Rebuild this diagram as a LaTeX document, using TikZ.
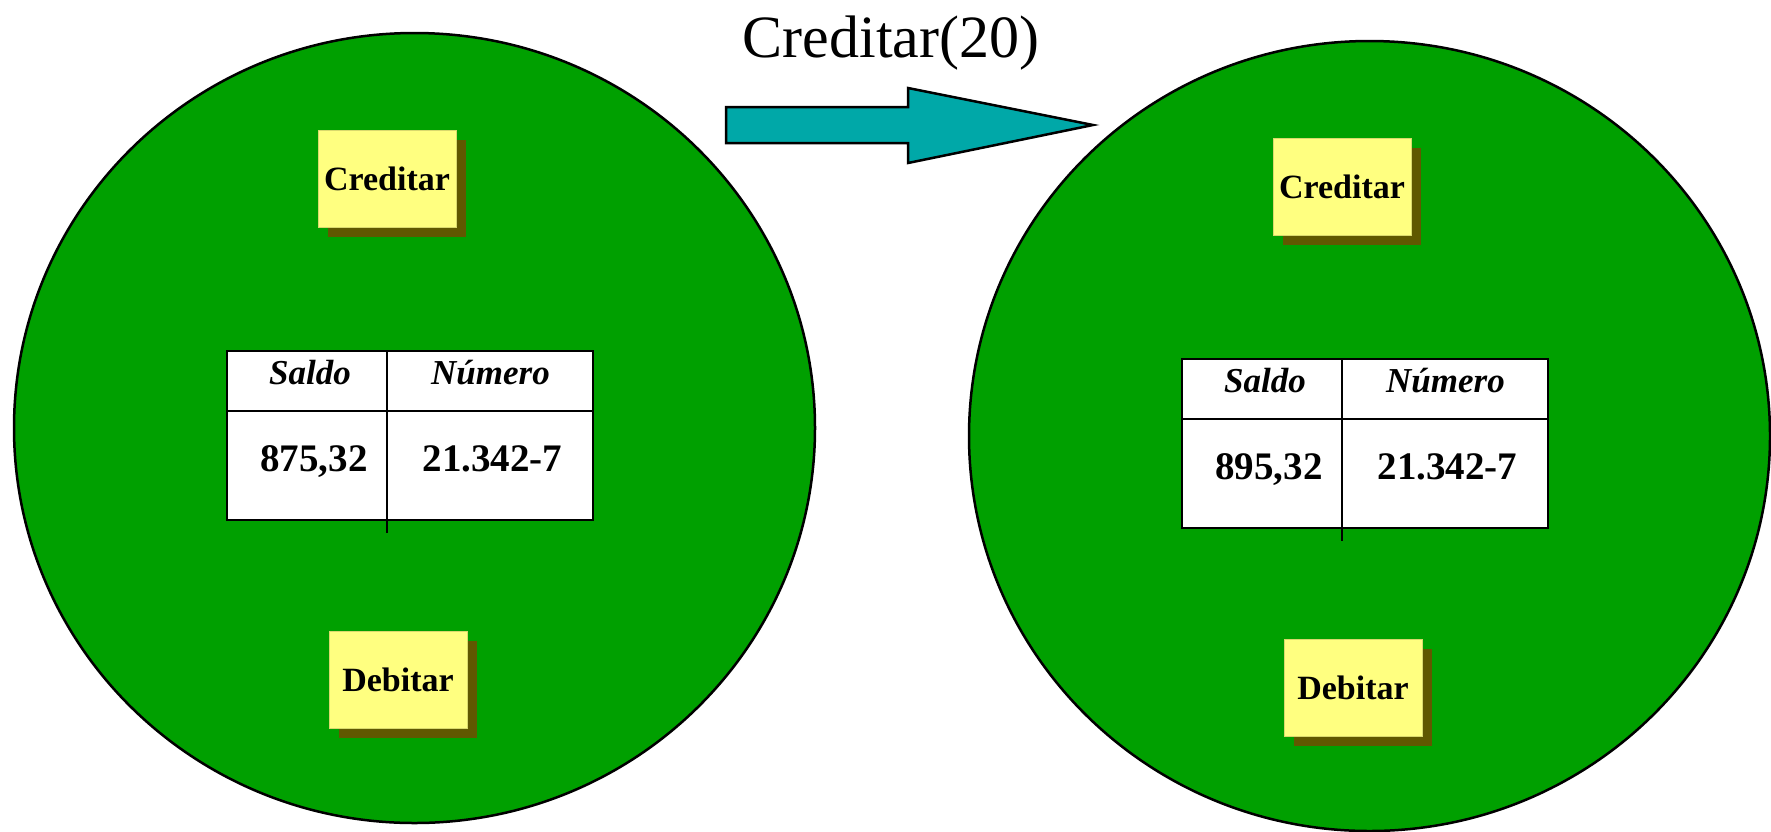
\documentclass[tikz,border=0pt]{standalone}
\usepackage{fontspec}
\setmainfont{Liberation Serif}
\usepackage{tikz}
\usetikzlibrary{positioning,shapes.geometric,shadows}
\definecolor{objgreen}{RGB}{0,160,0}
\definecolor{msgteal}{RGB}{0,168,168}
\definecolor{postit}{RGB}{255,255,128}
\definecolor{postshadow}{RGB}{96,88,0}

\begin{document}
\begin{tikzpicture}[
  x=1pt, y=-1pt,
  obj/.style={ellipse, draw, line width=2.5pt, fill=objgreen,
              minimum width=801pt, minimum height=790pt, inner sep=0pt},
  method/.style={rectangle, fill=postit, draw=postit!85!black, line width=0.6pt,
                 minimum width=138pt, minimum height=97pt, inner sep=0pt,
                 font=\fontsize{34}{40}\selectfont\bfseries,
                 drop shadow={fill=postshadow, opacity=1,
                              shadow xshift=10pt, shadow yshift=-10pt}},
  tab/.style={draw, line width=2.5pt, fill=white},
  rule/.style={line width=2.5pt},
  head/.style={anchor=base, inner sep=0pt, font=\fontsize{35}{40}\selectfont\bfseries\itshape},
  val/.style={anchor=base, inner sep=0pt, font=\fontsize{39}{44}\selectfont\bfseries},
  msgarr/.style={draw, line width=2.5pt, fill=msgteal, line join=miter},
]
\useasboundingbox (0,0) rectangle (1771,831);

% Objects: before and after the message
\foreach \i/\dx/\dy/\amount in {l/0/0/{875,32}, r/955/8/{895,32}} {
  \begin{scope}[shift={(\dx,\dy)}]
    \node[obj] (obj\i) at (414.5,428) {};
    \node[method] (cred\i) at (387,178.5) {Creditar};
    \node[method] (deb\i) at (398,679.5) {Debitar};
    % attribute table
    \draw[tab] (227,351) rectangle (593,520);
    \draw[rule] (227,411) -- (593,411);
    \draw[rule] (387,351) -- (387,533);
    \node[head] (saldo\i) at (310,384) {Saldo};
    \node[head] (num\i) at (490.5,384) {Número};
    \node[val] (amt\i) at (314,471) {\amount};
    \node[val] (acc\i) at (492.5,471) {21.342-7};
  \end{scope}
}

% Message
\node[anchor=base, inner sep=0pt, font=\fontsize{60}{70}\selectfont] (msg) at (891,57) {Creditar(20)};
\draw[msgarr] (726,107) -- (908,107) -- (908,88) -- (1093,125)
  -- (908,163) -- (908,143) -- (726,143) -- cycle;
\end{tikzpicture}
\end{document}
